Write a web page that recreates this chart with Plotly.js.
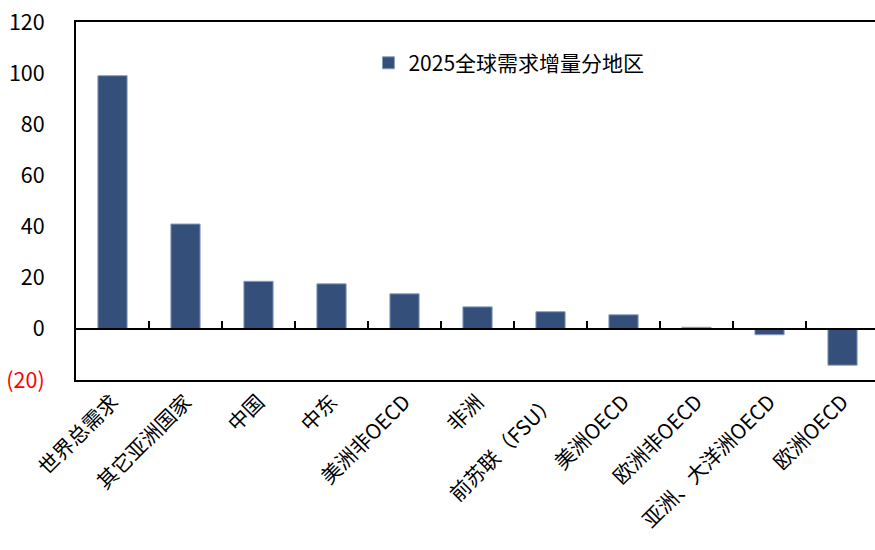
<!DOCTYPE html>
<html>
<head>
<meta charset="utf-8">
<script src="https://cdn.plot.ly/plotly-3.0.1.min.js"></script>
<style>html,body{margin:0;padding:0;background:#fff;}#chart{width:875px;height:550px;}</style>
</head>
<body>
<div id="chart"></div>
<script>
var categories = ["世界总需求","其它亚洲国家","中国","中东","美洲非OECD","非洲","前苏联（FSU）","美洲OECD","欧洲非OECD","亚洲、大洋洲OECD","欧洲OECD"];
var values = [99, 41, 18.6, 17.6, 13.7, 8.6, 6.7, 5.5, 0.6, -2.3, -14.2];
var seriesName = "2025全球需求增量分地区";
var yTickVals = [-20, 0, 20, 40, 60, 80, 100, 120];
var yTickText = ['<span style="color:#ff0000">(20)</span>', "0", "20", "40", "60", "80", "100", "120"];

var font = "Noto Sans CJK SC, Noto Sans, sans-serif";
var trace = {
  type: "bar",
  x: categories,
  y: values,
  name: seriesName,
  width: 0.4,
  marker: {color: "#34507a", line: {color: "#8a9dbd", width: 1}},
  showlegend: true
};
var boundary = {
  type: "scatter", x: categories, y: values, xaxis: "x2", yaxis: "y",
  mode: "none", showlegend: false, hoverinfo: "skip"
};
var layout = {
  width: 875, height: 550,
  margin: {l: 76, r: 0, t: 22, b: 170},
  paper_bgcolor: "#fff", plot_bgcolor: "#fff",
  font: {family: font, color: "#000"},
  showlegend: true,
  legend: {x: 0.366, y: 0.885, xanchor: "left", yanchor: "middle", font: {size: 21, family: font}, bgcolor: "rgba(0,0,0,0)", itemwidth: 30},
  xaxis: {
    type: "category", range: [-0.5, 10.445],
    showline: true, linecolor: "#000", linewidth: 2, mirror: true,
    ticks: "", tickangle: -45, tickfont: {size: 20.5, family: font},
    showgrid: false, zeroline: false
  },
  xaxis2: {
    type: "category", overlaying: "x", anchor: "free", position: 20/140,
    range: [-0.5, 10.445], showline: true, linecolor: "#000", linewidth: 2,
    ticks: "inside", ticklen: 7, tickwidth: 2, tickcolor: "#000", tickson: "boundaries",
    showticklabels: false, showgrid: false, zeroline: false
  },
  yaxis: {
    range: [-20, 120], tickvals: yTickVals, ticktext: yTickText,
    showline: true, linecolor: "#000", linewidth: 2, mirror: true,
    ticks: "outside", ticklen: 25, tickcolor: "rgba(0,0,0,0)",
    tickfont: {size: 21.5, family: font}, showgrid: false, zeroline: false
  }
};
Plotly.newPlot("chart", [trace, boundary], layout, {displayModeBar: false, staticPlot: true});
</script>
</body>
</html>
